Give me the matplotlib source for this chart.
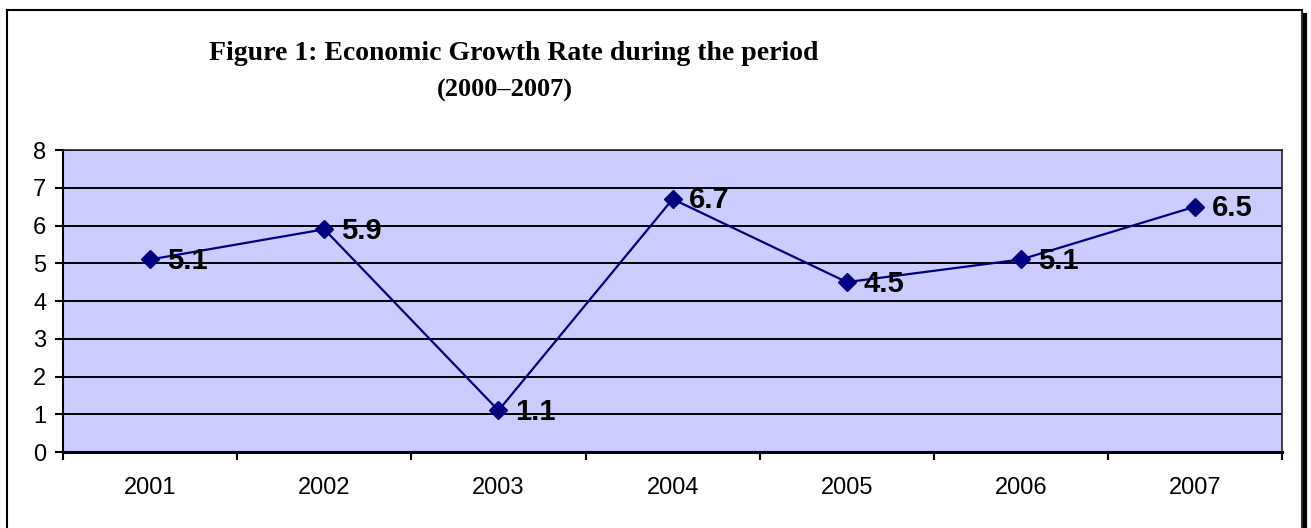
import matplotlib.pyplot as plt
from matplotlib.lines import Line2D

# data
years = ['2001', '2002', '2003', '2004', '2005', '2006', '2007']
growth = [5.1, 5.9, 1.1, 6.7, 4.5, 5.1, 6.5]

fig = plt.figure(figsize=(13.11, 5.28), dpi=100)
ax = fig.add_axes([0.0481, 0.1439, 0.930, 0.572])

xs = [i + 0.5 for i in range(len(years))]
ax.set_facecolor('#CCCCFF')
ax.plot(xs, growth, color='#000080', lw=1.6, marker='D', markersize=9.5, zorder=3)

for x, v in zip(xs, growth):
    ax.annotate(f'{v}', (x, v), xytext=(12, -1), textcoords='offset points',
                ha='left', va='center', fontsize=21, fontweight='bold',
                family='Liberation Sans', zorder=4)

ax.set_xlim(0, len(years))
ax.set_ylim(0, 8)
ax.set_yticks(range(0, 9))
ax.set_xticks(range(0, len(years) + 1))
ax.set_xticklabels([])
ax.set_xticks(xs, minor=True)
ax.set_xticklabels(years, minor=True, fontsize=17, family='Liberation Sans')
ax.tick_params(axis='x', which='minor', length=0, pad=18)
ax.tick_params(axis='x', which='major', length=6, width=1.5, direction='out')
ax.tick_params(axis='y', length=6, width=1.5, labelsize=17, pad=6)
for lab in ax.get_yticklabels():
    lab.set_family('Liberation Sans')

ax.yaxis.grid(True, color='black', lw=1.4)
ax.set_axisbelow(True)
for s in ['top', 'right']:
    ax.spines[s].set_color('#222222')
    ax.spines[s].set_linewidth(1.2)
ax.spines['left'].set_linewidth(1.5)
ax.spines['bottom'].set_linewidth(2.2)

# title
fig.text(0.392, 0.899, 'Figure 1: Economic Growth Rate during the period',
         ha='center', va='center', fontsize=20, fontweight='bold', family='Liberation Serif')
fig.text(0.385, 0.828, '(2000–2007)', ha='center', va='center',
         fontsize=19, fontweight='bold', family='Liberation Serif')

# outer frame with shadow on right
fig.add_artist(Line2D([0.0053, 0.0053], [0.0, 0.981], color='black', lw=1.5, transform=fig.transFigure))
fig.add_artist(Line2D([0.0053, 0.9935], [0.981, 0.981], color='black', lw=1.5, transform=fig.transFigure))
fig.add_artist(Line2D([0.9935, 0.9935], [0.0, 0.981], color='black', lw=1.2, transform=fig.transFigure))
fig.add_artist(Line2D([0.9955, 0.9955], [0.0, 0.972], color='black', lw=3.0, transform=fig.transFigure))

fig.savefig('out.png', dpi=100)
